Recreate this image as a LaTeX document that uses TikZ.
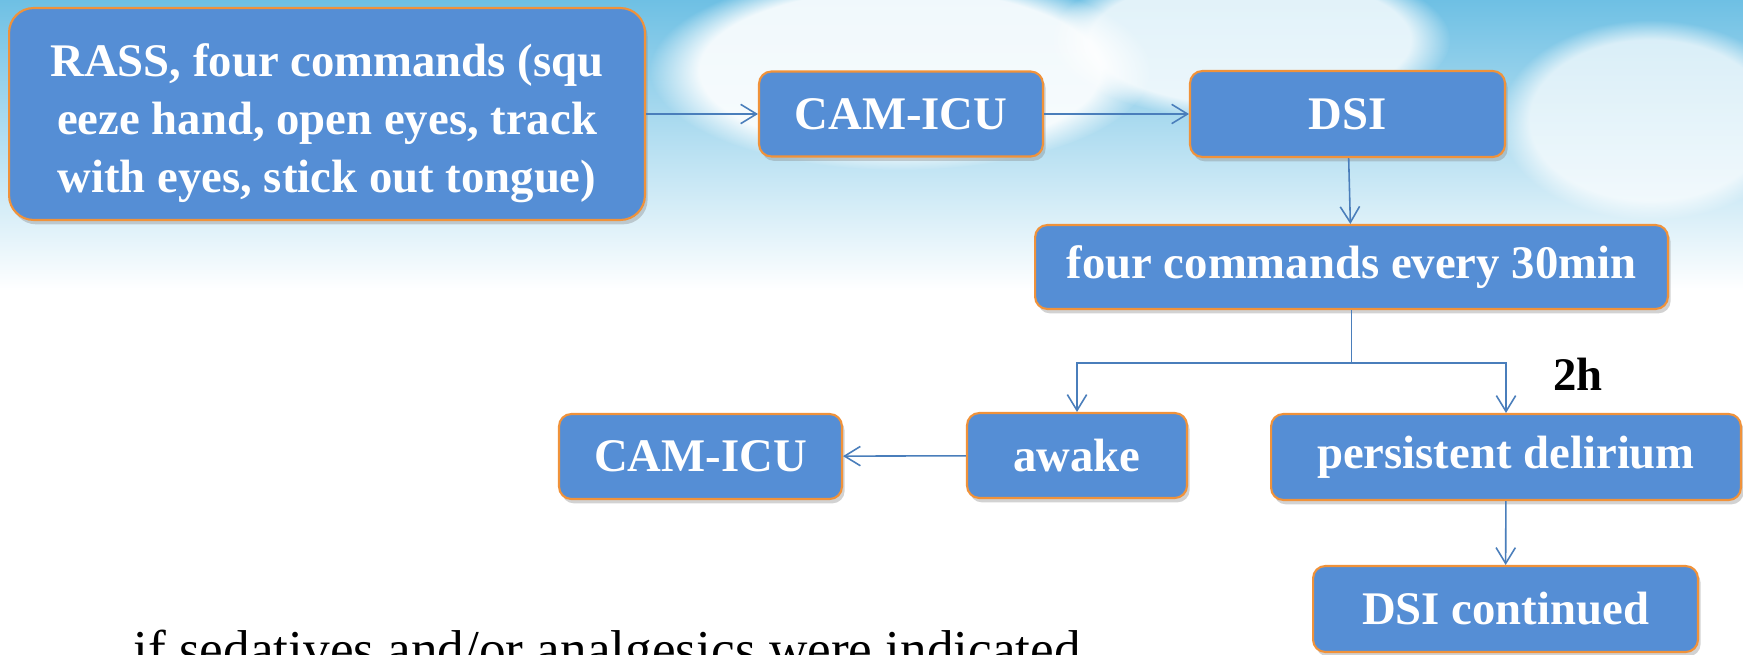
\documentclass[tikz,border=0pt]{standalone}
\usepackage{fontspec}
\setmainfont{Liberation Serif}
\usepackage{xcolor}
\usetikzlibrary{arrows.meta}
\usetikzlibrary{calc}
\usetikzlibrary{shadows}
\usetikzlibrary{fadings}

\definecolor{boxblue}{RGB}{85,142,213}
\definecolor{boxorange}{RGB}{240,146,58}
\definecolor{linkblue}{RGB}{74,126,187}
\definecolor{sky}{RGB}{110,192,228}

\begin{document}
\begin{tikzpicture}[
    x=0.02cm, y=-0.02cm,
    % styles
    flowbox/.style={draw=boxorange, line width=1.2pt, fill=boxblue,
      rounded corners=7pt, text=white, inner sep=0pt, align=center,
      font=\fontsize{26.6}{33}\selectfont\bfseries,
      drop shadow={shadow xshift=1.5pt, shadow yshift=-2.5pt, opacity=0.35}},
    link/.style={draw=linkblue, line width=0.9pt,
      -{Straight Barb[length=9pt, width=11pt]}},
    cloud/.style={white, path fading=circle with fuzzy edge 20 percent}]

    % page and sky
    \clip (0,0) rectangle (1743,655);
    \fill[white] (0,0) rectangle (1743,655);
    \shade[top color=sky, bottom color=white] (0,0) rectangle (1743,290);
    \fill[cloud, opacity=0.9] (900,70) ellipse (5cm and 2cm);
    \fill[cloud, opacity=0.8] (1250,40) ellipse (4cm and 1.6cm);
    \fill[cloud, opacity=0.7] (1650,120) ellipse (3cm and 2cm);

    % boxes
    \node[flowbox, minimum width=12.72cm, minimum height=4.24cm,
      rounded corners=14pt] (rass) at (327,114)
      {\raisebox{-5pt}[\height][\depth]{\begin{tabular}{@{}c@{}}RASS, four commands (squ\\
        eeze hand, open eyes, track\\with eyes, stick out tongue)\end{tabular}}};
    \node[flowbox, minimum width=5.68cm, minimum height=1.70cm] (cam1) at (901,114) {CAM-ICU};
    \node[flowbox, minimum width=6.30cm, minimum height=1.72cm] (dsi) at (1347.5,114) {DSI};
    \node[flowbox, minimum width=12.66cm, minimum height=1.68cm] (four) at (1351.5,267)
      {four commands every 30min};
    \node[flowbox, minimum width=4.40cm, minimum height=1.70cm] (awake) at (1077,455.5) {awake};
    \node[flowbox, minimum width=9.40cm, minimum height=1.72cm] (persist) at (1506,457)
      {persistent delirium};
    \node[flowbox, minimum width=5.66cm, minimum height=1.70cm] (cam2) at (700.5,456.5) {CAM-ICU};
    \node[flowbox, minimum width=7.70cm, minimum height=1.72cm] (dsicont) at (1505.5,609)
      {DSI continued};

    % labels
    \node[font=\fontsize{26.6}{32}\selectfont\bfseries] (twoh) at (1578,374) {2h};
    \node[anchor=base west, inner sep=0pt, font=\fontsize{30.3}{36}\selectfont] (note)
      at (133,667) {if sedatives and/or analgesics were indicated};

    % connectors
    \draw[link] (rass) -- (cam1);
    \draw[link] (cam1) -- (dsi);
    \draw[link] (dsi) -- (four);
    \coordinate (split) at ($(four.south)+(0,53)$);
    \draw[draw=linkblue, line width=0.9pt] (four.south) -- (split);
    \draw[link] (split) -| (awake);
    \draw[link] (split) -| (persist);
    \draw[link] (awake) -- (cam2);
    \draw[link] (persist) -- (dsicont);

  \end{tikzpicture}
\end{document}
